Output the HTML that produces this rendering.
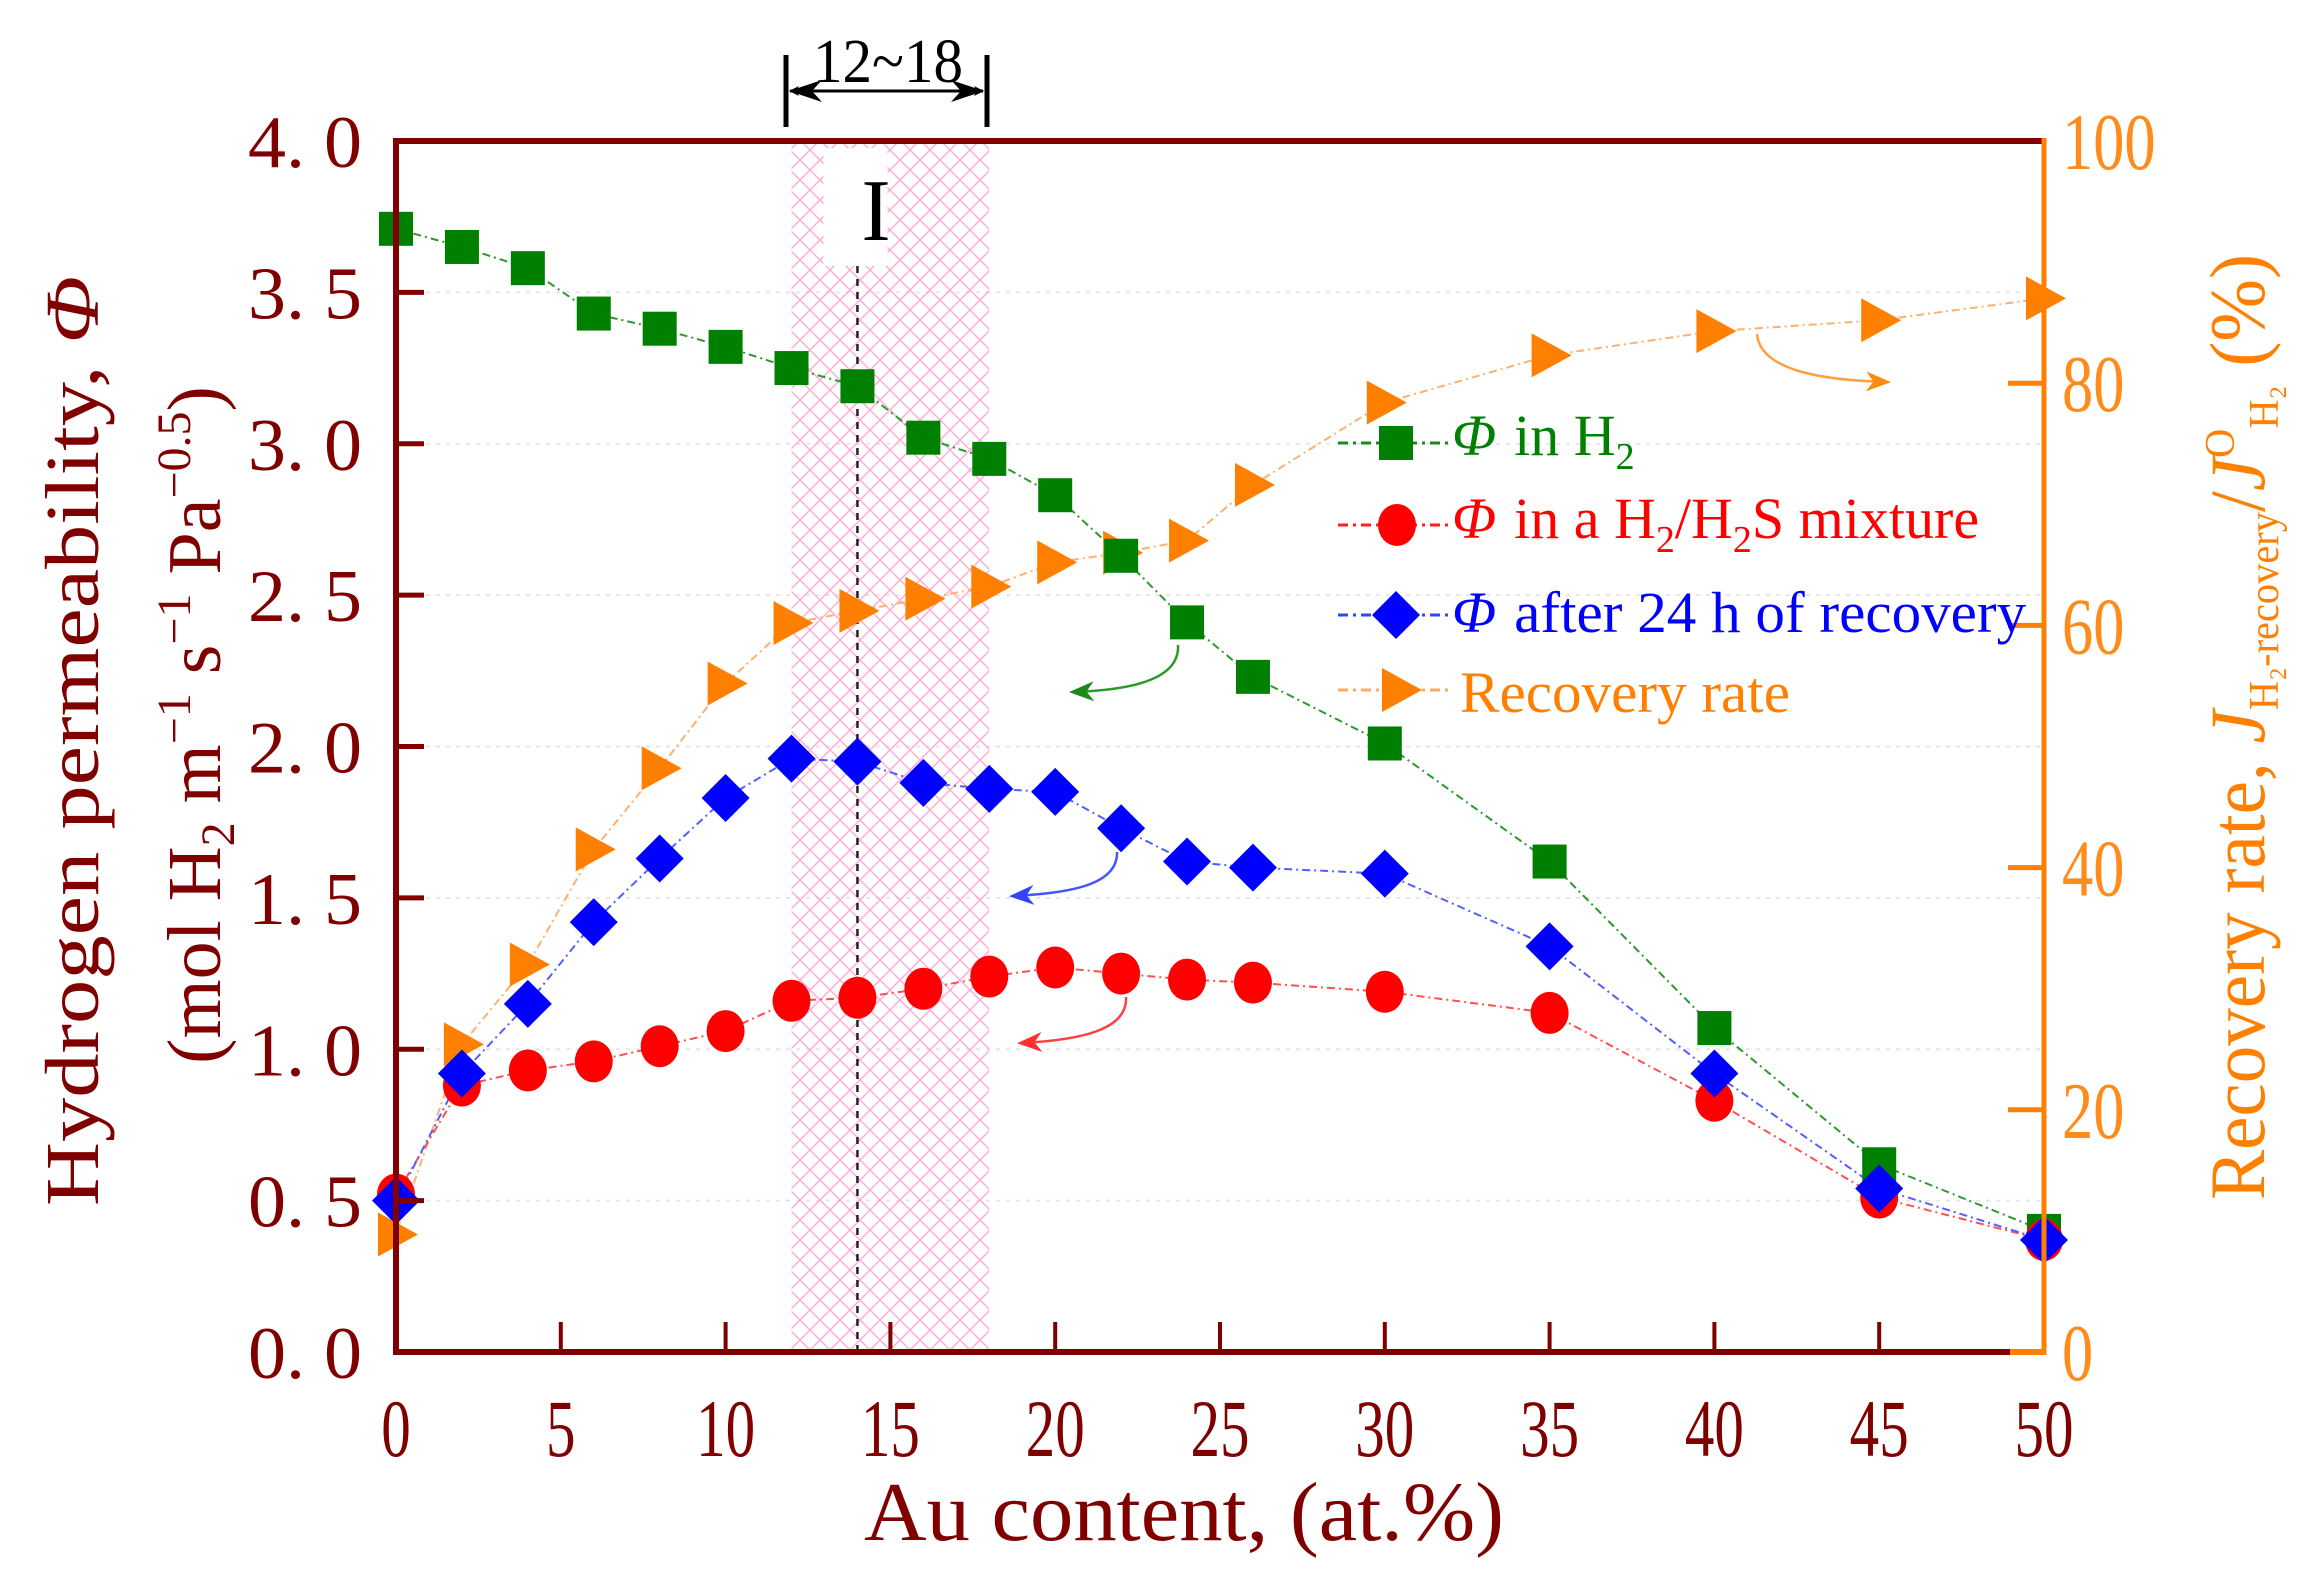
<!DOCTYPE html>
<html><head><meta charset="utf-8"><style>
html,body{margin:0;padding:0;background:#fff;}
svg{display:block;font-family:"Liberation Serif",serif;}
</style></head><body>
<svg id="chart" width="2319" height="1590" viewBox="0 0 2319 1590" xmlns="http://www.w3.org/2000/svg">
<defs>
<pattern id="hatch" width="20" height="20" patternUnits="userSpaceOnUse">
<path d="M0,0 L20,20 M20,0 L0,20" stroke="#ff90c8" stroke-width="1.5" fill="none"/>
</pattern>
<marker id="ah-g" markerWidth="10" markerHeight="10" refX="8" refY="5" orient="auto"><path d="M0,1 L10,5 L0,9 L3,5 Z" fill="#1a8a1a"/></marker>
<marker id="ah-b" markerWidth="10" markerHeight="10" refX="8" refY="5" orient="auto"><path d="M0,1 L10,5 L0,9 L3,5 Z" fill="#3344ff"/></marker>
<marker id="ah-r" markerWidth="10" markerHeight="10" refX="8" refY="5" orient="auto"><path d="M0,1 L10,5 L0,9 L3,5 Z" fill="#ff3030"/></marker>
<marker id="ah-o" markerWidth="10" markerHeight="10" refX="8" refY="5" orient="auto"><path d="M0,1 L10,5 L0,9 L3,5 Z" fill="#ff8a10"/></marker>
<marker id="ah-k" markerWidth="10" markerHeight="10" refX="9" refY="5" orient="auto-start-reverse" markerUnits="userSpaceOnUse" viewBox="0 0 10 10"><path d="M0,0 L10,5 L0,10 L3,5 Z" fill="#000"/></marker>
</defs>
<g id="grid"></g>
<rect id="region" fill="url(#hatch)" opacity="0.75"/>
<rect id="ibox" x="842" y="148" width="64" height="118" fill="#fff"/>
<line id="dash14" stroke="#222" stroke-width="2.5" stroke-dasharray="7,6"/>
<text x="876" y="240" font-size="88" text-anchor="middle" fill="#000">I</text>
<g stroke="#000">
<line x1="786" y1="55" x2="786" y2="127" stroke-width="5"/>
<line x1="987" y1="55" x2="987" y2="127" stroke-width="5"/>
<line x1="790" y1="91" x2="983" y2="91" stroke-width="3" marker-start="url(#ah-k)" marker-end="url(#ah-k)" style="--s:1"/>
</g>
<g fill="#000">
<path d="M789,91 L822,80 L812,91 L822,102 Z"/>
<path d="M984,91 L951,80 L961,91 L951,102 Z"/>
</g>
<text x="888" y="82" font-size="62" text-anchor="middle" textLength="150" lengthAdjust="spacingAndGlyphs" fill="#000">12~18</text>
<g id="series"></g>
<g fill="none" stroke-width="2.5">
<path d="M1178,645 C1180,680 1130,690 1074,692" stroke="#2a9a2a" marker-end="url(#ah-g)"/>
<path d="M1117,852 C1118,885 1070,893 1014,896" stroke="#4455ff" marker-end="url(#ah-b)"/>
<path d="M1126,997 C1128,1030 1080,1040 1022,1043" stroke="#ff4040" marker-end="url(#ah-r)"/>
<path d="M1757,334 C1760,370 1820,380 1886,382" stroke="#ffa040" marker-end="url(#ah-o)"/>
</g>
<g id="axes"></g>
<g font-size="58">
<g>
<line x1="1338" y1="443" x2="1449" y2="443" stroke="#1a8a1a" stroke-width="3" stroke-dasharray="10,5,3,5"/>
<rect x="1379" y="426" width="34" height="34" fill="#008000"/>
<text x="1452" y="455" fill="#008000"><tspan font-style="italic">Φ</tspan><tspan dx="18">in H</tspan><tspan font-size="38" dy="14">2</tspan></text>
</g>
<g>
<line x1="1338" y1="525" x2="1449" y2="525" stroke="#ff2020" stroke-width="3" stroke-dasharray="10,5,3,5"/>
<ellipse cx="1397" cy="525" rx="19" ry="21" fill="#ff0000"/>
<text x="1452" y="538" fill="#ff0000"><tspan font-style="italic">Φ</tspan><tspan dx="18">in a H</tspan><tspan font-size="38" dy="14">2</tspan><tspan dy="-14">/H</tspan><tspan font-size="38" dy="14">2</tspan><tspan dy="-14">S mixture</tspan></text>
</g>
<g>
<line x1="1338" y1="615" x2="1449" y2="615" stroke="#3344ff" stroke-width="3" stroke-dasharray="10,5,3,5"/>
<path d="M1396,591 L1420,615 L1396,639 L1372,615 Z" fill="#0000ff"/>
<text x="1452" y="632" fill="#0000ff"><tspan font-style="italic">Φ</tspan><tspan dx="18" textLength="512" lengthAdjust="spacingAndGlyphs">after 24 h of recovery</tspan></text>
</g>
<g>
<line x1="1338" y1="690" x2="1449" y2="690" stroke="#ffaa60" stroke-width="3" stroke-dasharray="10,5,3,5"/>
<path d="M1382,668 L1422,690 L1382,712 Z" fill="#ff8000"/>
<text x="1460" y="712" fill="#ff8000" textLength="330" lengthAdjust="spacingAndGlyphs">Recovery rate</text>
</g>
</g>
<text x="1184" y="1540" font-size="84" text-anchor="middle" fill="#800000" textLength="640" lengthAdjust="spacingAndGlyphs">Au content, (at.%)</text>
<g fill="#800000" font-size="76">
<text transform="translate(98,741) rotate(-90)" text-anchor="middle" textLength="930" lengthAdjust="spacingAndGlyphs">Hydrogen permeability, <tspan font-style="italic">Φ</tspan></text>
<text transform="translate(220,725) rotate(-90)" text-anchor="middle">(mol H<tspan font-size="48" dy="14">2</tspan><tspan dy="-14"> m</tspan><tspan font-size="48" dy="-30">−1</tspan><tspan dy="30"> s</tspan><tspan font-size="48" dy="-30">−1</tspan><tspan dy="30"> Pa</tspan><tspan font-size="48" dy="-30">−0.5</tspan><tspan dy="30">)</tspan></text>
</g>
<text transform="translate(2264,727) rotate(-90)" text-anchor="middle" fill="#ff8000" font-size="78" textLength="946" lengthAdjust="spacingAndGlyphs">Recovery rate, <tspan font-style="italic">J</tspan><tspan font-size="42" dy="14">H₂-recovery</tspan><tspan dy="-14">/</tspan><tspan font-style="italic">J</tspan><tspan font-size="42" dy="-30">O</tspan><tspan font-size="42" dy="44">H₂</tspan><tspan dy="-14"> (%)</tspan></text>
</svg>
<script>
const xs = [0,2,4,6,8,10,12,14,16,18,20,22,24,26,30,35,40,45,50];
const phiH2 = [3.71,3.65,3.58,3.43,3.38,3.32,3.25,3.19,3.02,2.95,2.83,2.63,2.41,2.23,2.01,1.62,1.07,0.62,0.40];
const phiH2S = [0.52,0.88,0.93,0.96,1.01,1.06,1.16,1.17,1.20,1.24,1.27,1.25,1.23,1.22,1.19,1.12,0.83,0.51,0.37];
const phiRec = [0.50,0.92,1.15,1.42,1.63,1.83,1.96,1.95,1.88,1.86,1.85,1.73,1.62,1.60,1.58,1.34,0.92,0.54,0.37];
const rate = [9.7,25.4,32,41.5,48.2,55.2,60.2,61.2,62.2,63.2,65.2,66,67,71.6,78.4,82.3,84.3,85.2,87];
const xTicks = [0,5,10,15,20,25,30,35,40,45,50];
const yTicks = [0,0.5,1.0,1.5,2.0,2.5,3.0,3.5,4.0];
const yLabels = ["0. 0","0. 5","1. 0","1. 5","2. 0","2. 5","3. 0","3. 5","4. 0"];
const rTicks = [0,20,40,60,80,100];
const region = [12,18];
const markX = 14;

const L=396,R=2044,T=141,B=1352;
const X=v=>L+(v-0)/(50-0)*(R-L);
const Y=v=>B-(v/4)*(B-T);
const YR=v=>B-(v/100)*(B-T);
const NS="http://www.w3.org/2000/svg";
function mk(tag,attrs,parent){const e=document.createElementNS(NS,tag);for(const k in attrs)e.setAttribute(k,attrs[k]);parent.appendChild(e);return e;}

const grid=document.getElementById('grid');
yTicks.forEach(v=>{if(v>0&&v<4){const g=mk('line',{x1:L,x2:R,y1:Y(v),y2:Y(v),stroke:'#e6e6e6','stroke-width':2,'stroke-dasharray':'4,6'},grid);

}});

const reg=document.getElementById('region');
reg.setAttribute('x',X(region[0]));reg.setAttribute('width',X(region[1])-X(region[0]));
reg.setAttribute('y',T);reg.setAttribute('height',B-T);
const d14=document.getElementById('dash14');
d14.setAttribute('x1',X(markX));d14.setAttribute('x2',X(markX));d14.setAttribute('y1',266);d14.setAttribute('y2',B);
document.getElementById('ibox').setAttribute('x',X(markX)-34);

const S=document.getElementById('series');
function line(vals,yf,color,name){
  const p=mk('polyline',{points:xs.map((x,i)=>X(x)+','+yf(vals[i])).join(' '),fill:'none',stroke:color,'stroke-width':2,'stroke-dasharray':'8,4,2,4'},S);
  
  
}
line(rate,YR,'#ffb070','line-recovery-rate');
line(phiH2,Y,'#2a9a2a','line-phi-h2');
line(phiH2S,Y,'#ff5050','line-phi-h2s');
line(phiRec,Y,'#5060ff','line-phi-recovery');
xs.forEach((x,i)=>{const cx=X(x),cy=YR(rate[i]);
  const t=mk('path',{d:`M${cx-18},${cy-22} L${cx+22},${cy} L${cx-18},${cy+22} Z`,fill:'#ff8000'},S);
  
  });
xs.forEach((x,i)=>{const cx=X(x),cy=Y(phiH2[i]);
  const r=mk('rect',{x:cx-17,y:cy-17,width:34,height:34,fill:'#008000'},S);
  
  });
xs.forEach((x,i)=>{const cx=X(x),cy=Y(phiH2S[i]);
  const c=mk('ellipse',{cx:cx,cy:cy,rx:19,ry:21,fill:'#ff0000'},S);
  
  });
xs.forEach((x,i)=>{const cx=X(x),cy=Y(phiRec[i]);
  const d=mk('path',{d:`M${cx},${cy-24} L${cx+24},${cy} L${cx},${cy+24} L${cx-24},${cy} Z`,fill:'#0000ff'},S);
  
  });

const A=document.getElementById('axes');
const dr='#800000',or='#ff8000';
mk('line',{x1:L,y1:T,x2:R,y2:T,stroke:dr,'stroke-width':6},A);
mk('line',{x1:L,y1:T-3,x2:L,y2:B+3,stroke:dr,'stroke-width':6},A);
mk('line',{x1:L-3,y1:B,x2:R-34,y2:B,stroke:dr,'stroke-width':6},A);
mk('line',{x1:R-34,y1:B,x2:R,y2:B,stroke:or,'stroke-width':6},A);
mk('line',{x1:R,y1:T-3,x2:R,y2:B+3,stroke:or,'stroke-width':5},A);
yTicks.forEach((v,i)=>{
  if(v>0&&v<4) mk('line',{x1:L,x2:L+28,y1:Y(v),y2:Y(v),stroke:dr,'stroke-width':5},A);
  const t=mk('text',{x:362,y:Y(v)+26,'text-anchor':'end','font-size':74,fill:dr,textLength:114,lengthAdjust:'spacingAndGlyphs'},A);
  t.textContent=yLabels[i];
  
  
});
xTicks.forEach(v=>{
  if(v>0&&v<50) mk('line',{x1:X(v),x2:X(v),y1:B,y2:B-30,stroke:dr,'stroke-width':4},A);
  const t=mk('text',{x:X(v),y:1456,'text-anchor':'middle','font-size':82,fill:dr,transform:`translate(${X(v)},0) scale(0.72,1) translate(${-X(v)},0)`},A);
  t.textContent=v;
  
  
});
rTicks.forEach(v=>{
  if(v>0&&v<100) mk('line',{x1:R-36,x2:R,y1:YR(v),y2:YR(v),stroke:or,'stroke-width':5},A);
  const t=mk('text',{x:2062,y:YR(v)+28,'font-size':80,fill:'#ff8c1a',transform:`translate(2062,0) scale(0.78,1) translate(-2062,0)`},A);
  t.textContent=v;
  
  
});
</script>
</body></html>
